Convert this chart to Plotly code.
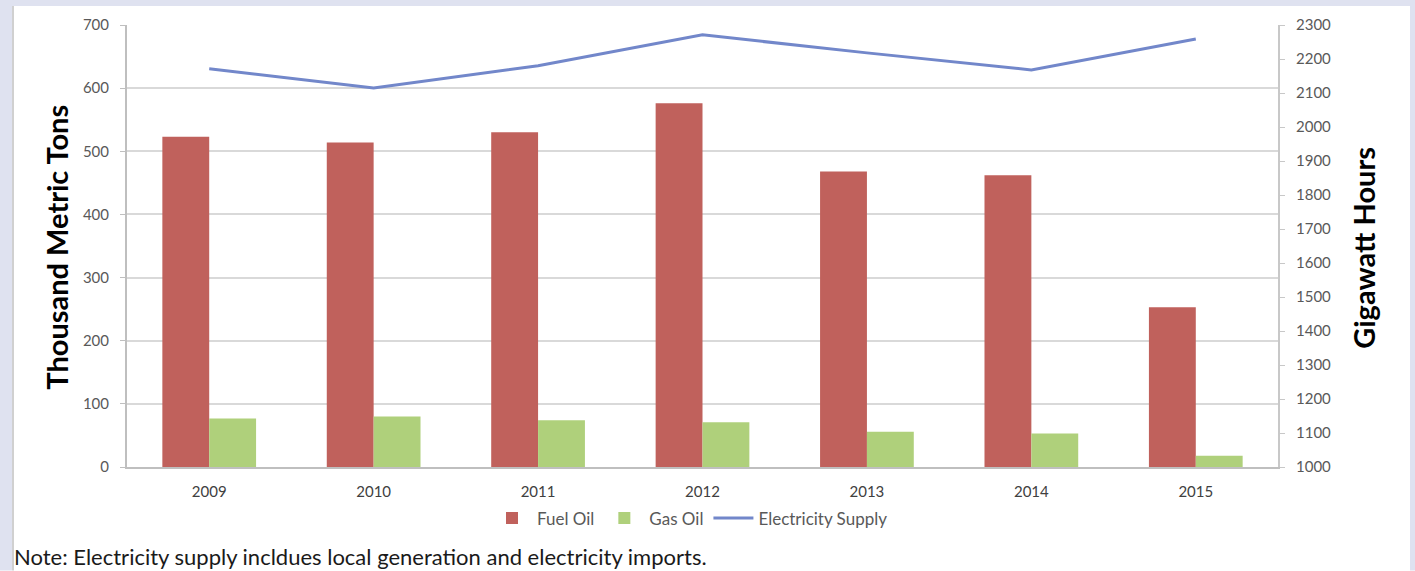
import plotly.graph_objects as go

years = ["2009", "2010", "2011", "2012", "2013", "2014", "2015"]
fuel_oil = [523, 514, 530, 576, 468, 462, 253]
gas_oil = [77, 80, 74, 71, 56, 53, 18]
electricity_supply = [2171, 2115, 2180, 2271, 2218, 2168, 2259]

left_ticks = [0, 100, 200, 300, 400, 500, 600, 700]
right_ticks = list(range(1000, 2301, 100))

W, H = 1415, 571
L, R, T, B = 127, 137, 25, 103.5
pw, ph = W - L - R, H - T - B


def px(x):
    return (x - L) / pw


def py(y):
    return (H - B - y) / ph


FONT = "Lato"
TICK_COLOR = "#595959"

fig = go.Figure()
fig.add_trace(go.Bar(x=years, y=fuel_oil, name="Fuel Oil",
                     marker=dict(color="#c0615c", line=dict(width=0)),
                     offsetgroup="a"))
fig.add_trace(go.Bar(x=years, y=gas_oil, name="Gas Oil",
                     marker=dict(color="#afd07b", line=dict(width=0)),
                     offsetgroup="b"))
fig.add_trace(go.Scatter(x=years, y=electricity_supply, name="Electricity Supply",
                         mode="lines", line=dict(color="#7287ca", width=3),
                         yaxis="y2"))

shapes = [
    # lavender frame around the white card
    dict(type="rect", xref="paper", yref="paper", layer="below",
         x0=px(0), x1=px(W), y0=py(0), y1=py(6),
         fillcolor="#dfe2f0", line=dict(width=0)),
    dict(type="rect", xref="paper", yref="paper", layer="below",
         x0=px(0), x1=px(12), y0=py(0), y1=py(H),
         fillcolor="#dfe2f0", line=dict(width=0)),
    dict(type="rect", xref="paper", yref="paper", layer="below",
         x0=px(1410), x1=px(W), y0=py(0), y1=py(H),
         fillcolor="#dfe2f0", line=dict(width=0)),
    dict(type="line", xref="paper", yref="paper", layer="below",
         x0=px(13), x1=px(13), y0=py(6), y1=py(H),
         line=dict(color="#d0d0d0", width=2)),
]

annotations = [
    dict(text="<b>Thousand Metric Tons</b>", textangle=-90,
         xref="paper", yref="paper", x=px(57), y=py(248),
         xanchor="center", yanchor="middle",
         showarrow=False, font=dict(family=FONT, size=29, color="#000000")),
    dict(text="<b>Gigawatt Hours</b>", textangle=-90,
         xref="paper", yref="paper", x=px(1364), y=py(248),
         xanchor="center", yanchor="middle",
         showarrow=False, font=dict(family=FONT, size=29, color="#000000")),
    dict(text="Note: Electricity supply incldues local generation and electricity imports.",
         xref="paper", yref="paper", x=px(12), y=py(557),
         xanchor="left", yanchor="middle", showarrow=False,
         font=dict(family=FONT, size=22, color="#1a1a1a")),
]

fig.update_layout(
    width=W, height=H,
    margin=dict(l=L, r=R, t=T, b=B, pad=0),
    paper_bgcolor="#ffffff", plot_bgcolor="#ffffff",
    barmode="group", bargap=0.43, bargroupgap=0,
    font=dict(family=FONT, size=15, color=TICK_COLOR),
    xaxis=dict(type="category", showgrid=False, showline=True,
               linecolor="#bfbfbf", linewidth=2, ticks="",
               tickfont=dict(family=FONT, size=15, color="#404040"),
               ticklabelstandoff=10),
    yaxis=dict(range=[0, 700], tickvals=left_ticks, showgrid=True,
               gridcolor="#d9d9d9", gridwidth=2, showline=True,
               linecolor="#bfbfbf", linewidth=2, zeroline=False,
               ticks="outside", ticklen=5, tickcolor="#bfbfbf",
               tickfont=dict(family=FONT, size=15, color=TICK_COLOR),
               ticklabelstandoff=8),
    yaxis2=dict(range=[1000, 2300], tickvals=right_ticks, overlaying="y",
                side="right", showgrid=False, showline=True,
                linecolor="#c8c8c8", linewidth=2, zeroline=False,
                ticks="outside", ticklen=5, tickcolor="#c8c8c8",
                tickfont=dict(family=FONT, size=15, color=TICK_COLOR),
                ticklabelstandoff=8),
    legend=dict(orientation="h", xanchor="center", yanchor="middle",
                x=px(690), y=py(519),
                font=dict(family=FONT, size=17, color=TICK_COLOR),
                bgcolor="rgba(0,0,0,0)", itemwidth=40),
    shapes=shapes,
    annotations=annotations,
)

fig.write_html("out.html")
